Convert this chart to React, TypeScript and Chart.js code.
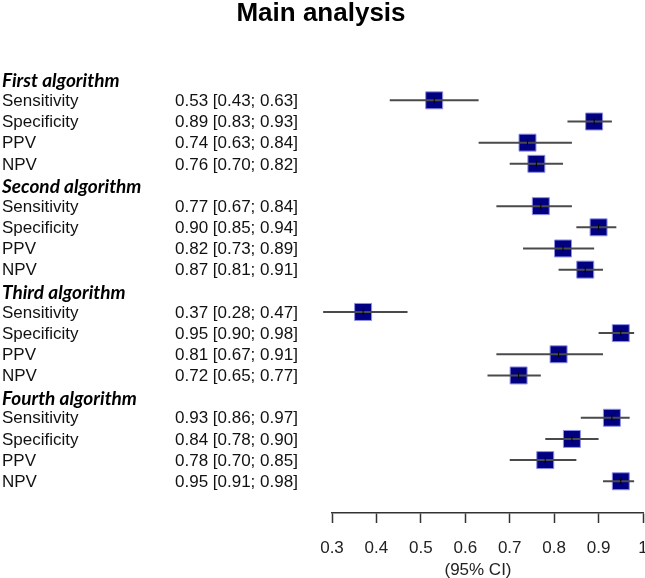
import React, { useEffect, useRef } from "react";
import { Chart, registerables } from "chart.js";

Chart.register(...registerables);

const titleText = "Main analysis";
const groups = ["First algorithm", "Second algorithm", "Third algorithm", "Fourth algorithm"];
const measures = ["Sensitivity", "Specificity", "PPV", "NPV"];
const estimates = [0.53, 0.89, 0.74, 0.76, 0.77, 0.90, 0.82, 0.87, 0.37, 0.95, 0.81, 0.72, 0.93, 0.84, 0.78, 0.95];
const lowers = [0.43, 0.83, 0.63, 0.70, 0.67, 0.85, 0.73, 0.81, 0.28, 0.90, 0.67, 0.65, 0.86, 0.78, 0.70, 0.91];
const uppers = [0.63, 0.93, 0.84, 0.82, 0.84, 0.94, 0.89, 0.91, 0.47, 0.98, 0.91, 0.77, 0.97, 0.90, 0.85, 0.98];
const tickValues = [0.3, 0.4, 0.5, 0.6, 0.7, 0.8, 0.9, 1];
const axisTitle = "(95% CI)";

const rowOf = (i: number) => Math.floor(i / measures.length) * (measures.length + 1) + 1 + (i % measures.length);

export default function App() {
  const ref = useRef<HTMLCanvasElement | null>(null);

  useEffect(() => {
    if (!ref.current) return;
    const points = estimates.map((v, i) => ({ x: v, y: rowOf(i) }));

    const forestPlugin = {
      id: "forest",
      afterDatasetsDraw(chart: any) {
        const ctx = chart.ctx;
        const xs = chart.scales.x;
        const ys = chart.scales.y;
        ctx.save();
        estimates.forEach((v, i) => {
          const y = ys.getPixelForValue(rowOf(i));
          ctx.strokeStyle = "#4a4a4a";
          ctx.lineWidth = 2;
          ctx.beginPath();
          ctx.moveTo(xs.getPixelForValue(lowers[i]), y);
          ctx.lineTo(xs.getPixelForValue(uppers[i]), y);
          ctx.stroke();
          const cx = xs.getPixelForValue(v);
          ctx.strokeStyle = "#000";
          ctx.lineWidth = 1;
          ctx.beginPath();
          ctx.moveTo(cx, y - 3);
          ctx.lineTo(cx, y + 3);
          ctx.stroke();
        });
        ctx.restore();
      },
      afterDraw(chart: any) {
        const ctx = chart.ctx;
        const ys = chart.scales.y;
        ctx.save();
        ctx.textBaseline = "middle";
        ctx.textAlign = "center";
        ctx.fillStyle = "#000";
        ctx.font = "bold 26px 'Liberation Sans', Arial, sans-serif";
        ctx.fillText(titleText, 321, 14);
        ctx.font = "17px 'Liberation Sans', Arial, sans-serif";
        ctx.fillStyle = "#222";
        ctx.fillText(axisTitle, 478, 570);
        ctx.textAlign = "left";
        groups.forEach((g, gi) => {
          const y = ys.getPixelForValue(gi * (measures.length + 1));
          ctx.font = "italic bold 19px Lato, 'Open Sans', sans-serif";
          ctx.fillStyle = "#000";
          ctx.fillText(g, 2, y + 2);
        });
        estimates.forEach((v, i) => {
          const y = ys.getPixelForValue(rowOf(i)) + 1;
          ctx.font = "17px 'Liberation Sans', Arial, sans-serif";
          ctx.fillStyle = "#111";
          ctx.fillText(measures[i % measures.length], 2, y);
          ctx.fillText(`${v.toFixed(2)} [${lowers[i].toFixed(2)}; ${uppers[i].toFixed(2)}]`, 175, y);
        });
        ctx.restore();
      },
    };

    const chart = new Chart(ref.current, {
      type: "scatter",
      data: {
        datasets: [
          {
            data: points,
            pointStyle: "rect",
            pointRadius: 12,
            pointHoverRadius: 12,
            backgroundColor: "#000080",
            borderColor: "#8f8fe8",
            borderWidth: 1,
          },
        ],
      },
      options: {
        responsive: false,
        animation: false,
        events: [],
        layout: { autoPadding: false, padding: { top: 58, left: 332, right: 2, bottom: 0 } },
        plugins: { legend: { display: false }, tooltip: { enabled: false }, title: { display: false } },
        scales: {
          x: {
            type: "linear",
            min: 0.3,
            max: 1,
            afterBuildTicks: (scale: any) => {
              scale.ticks = tickValues.map((v) => ({ value: v }));
            },
            afterFit: (scale: any) => {
              scale.paddingLeft = 0;
              scale.paddingRight = 0;
              scale.height = 65;
            },
            grid: { drawOnChartArea: false, drawTicks: true, tickLength: 10, color: "#333", tickWidth: 1.5 },
            border: { display: true, color: "#333", width: 1.5 },
            ticks: {
              padding: 15,
              color: "#222",
              font: { size: 17, family: "'Liberation Sans', Arial, sans-serif" },
              callback: (v: any) => String(Number(Number(v).toFixed(1))),
              maxRotation: 0,
              autoSkip: false,
            },
            title: { display: false },
          },
          y: { type: "linear", reverse: true, min: -1, max: 20.5, display: false },
        },
      },
      plugins: [forestPlugin],
    } as any);
    return () => chart.destroy();
  }, []);

  return (
    <div style={{ position: "absolute", left: 0, top: 0, width: 645, height: 578, background: "#fff" }}>
      <canvas ref={ref} width={645} height={578} style={{ display: "block" }} />
    </div>
  );
}
